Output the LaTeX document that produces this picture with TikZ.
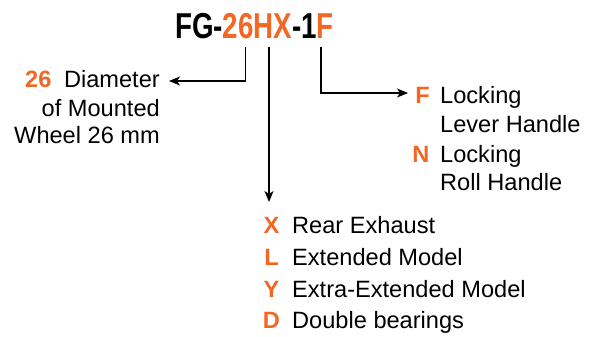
\documentclass[tikz,border=0pt]{standalone}
\usepackage{fontspec}
\setmainfont{Liberation Sans}
\usetikzlibrary{arrows.meta}
\definecolor{accent}{RGB}{242,103,36}
\tikzset{
  txt/.style={inner sep=0pt, font=\fontsize{23.6}{28}\selectfont},
  code/.style={inner sep=0pt, font=\fontsize{23.6}{28}\selectfont\bfseries, text=accent},
  conn/.style={line width=1.3pt, -{Stealth[length=11pt,width=9pt,inset=3pt]}}
}
\begin{document}
\begin{tikzpicture}[x=1pt,y=-1pt]
\useasboundingbox (0,0) rectangle (600,337);
% title
\node[inner sep=0pt, anchor=base west, font=\fontsize{36}{40}\selectfont\bfseries] (title) at (175,39)
  {\scalebox{0.77}[1]{FG-\textcolor{accent}{26HX}-1\textcolor{accent}{F}}};
\coordinate (s26) at (245.5,47);
\coordinate (sX) at (269,47);
\coordinate (sF) at (321,47);
% left block
\node[code, anchor=base west] (c26) at (25,88) {26};
\node[txt, anchor=base east] (l1) at (160,88) {Diameter};
\node[txt, anchor=base east] (l2) at (160,116) {of Mounted};
\node[txt, anchor=base east] (l3) at (160,143) {Wheel 26 mm};
% right block
\node[code, anchor=base] (cF) at (422.5,103) {F};
\node[txt, anchor=base west] (r1) at (440,103) {Locking};
\node[txt, anchor=base west] (r2) at (440,132) {Lever Handle};
\node[code, anchor=base] (cN) at (421,162) {N};
\node[txt, anchor=base west] (r3) at (440,162) {Locking};
\node[txt, anchor=base west] (r4) at (440,190) {Roll Handle};
% bottom block
\node[code, anchor=base] (cX) at (271.5,233) {X};
\node[txt, anchor=base west] (b1) at (292,233) {Rear Exhaust};
\node[code, anchor=base] (cL) at (271.5,265) {L};
\node[txt, anchor=base west] (b2) at (292,265) {Extended Model};
\node[code, anchor=base] (cY) at (271.5,297) {Y};
\node[txt, anchor=base west] (b3) at (292,297) {Extra-Extended Model};
\node[code, anchor=base] (cD) at (271.5,328) {D};
\node[txt, anchor=base west] (b4) at (292,328) {Double bearings};
% connectors
\coordinate (e26) at (169,81);
\coordinate (eX) at (269,202);
\coordinate (eF) at (408,93);
\draw[conn] (s26) |- (e26);
\draw[conn] (sX) -- (eX);
\draw[conn] (sF) |- (eF);
\end{tikzpicture}
\end{document}
